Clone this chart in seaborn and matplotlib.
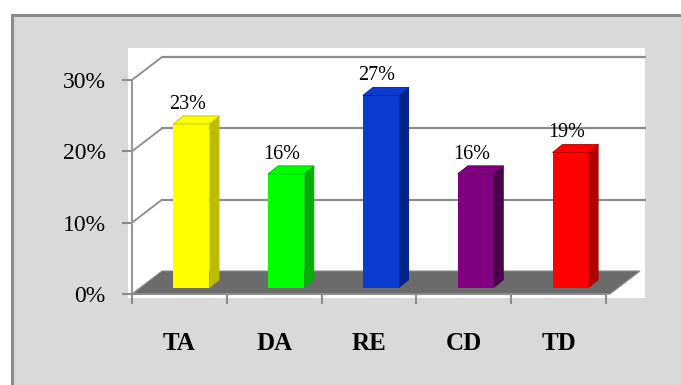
import numpy as np
import matplotlib
matplotlib.use("Agg")
import matplotlib.pyplot as plt
import seaborn as sns
from matplotlib.patches import Polygon, Rectangle
from matplotlib.lines import Line2D
from matplotlib.transforms import offset_copy, IdentityTransform
from matplotlib.ticker import PercentFormatter

# ---- data -------------------------------------------------------------
categories = ["TA", "DA", "RE", "CD", "TD"]
shares = [0.23, 0.16, 0.27, 0.16, 0.19]
front_colors = ["#ffff00", "#00ff00", "#0a3cd2", "#800080", "#ff0000"]
side_colors = ["#bdbd00", "#00b000", "#00238c", "#4a004a", "#b00000"]
y_ticks = [0.0, 0.10, 0.20, 0.30]

# ---- canvas -----------------------------------------------------------
W, H, DPI = 681, 385, 100
sns.set_theme(style="white")
plt.rcParams["font.family"] = ["Liberation Serif", "DejaVu Serif"]

fig = plt.figure(figsize=(W / DPI, H / DPI), dpi=DPI, facecolor="white")


def fx(x):
    return x / W


def fy(y):
    return 1 - y / H


# grey chart panel with its frame, and the white plot area
fig.patches.append(Rectangle((fx(12), fy(420)), fx(740) - fx(12), fy(14.5) - fy(420),
                             transform=fig.transFigure, facecolor="#d9d9d9",
                             edgecolor="#8c8c8c", linewidth=2.2, zorder=-2))
fig.patches.append(Rectangle((fx(128), fy(298)), fx(645) - fx(128), fy(48) - fy(298),
                             transform=fig.transFigure, facecolor="white",
                             edgecolor="none", zorder=-1))

ax = fig.add_axes([fx(132), fy(294), (606 - 132) / W, (294 - 80) / H])
ax.patch.set_visible(False)

sns.barplot(x=categories, y=shares, hue=categories, palette=front_colors,
            width=0.38, saturation=1, legend=False, ax=ax, zorder=5)
ax.set_xlim(-0.5, len(categories) - 0.5)
ax.set_ylim(0, 0.30)
ax.set_xlabel("")
ax.set_ylabel("")

# depth of the 3-D box (pixels) and of each bar
DEPTH_X, DEPTH_Y = 30, 23
BAR_DX, BAR_DY = 10, 8
ident = IdentityTransform()

# back wall gridlines and side-wall diagonals
x_left = ax.get_xlim()[0]
x_right = ax.get_xlim()[1]
for yv in y_ticks[1:]:
    fx0, fy0 = ax.transData.transform((x_left, yv))
    ax.add_line(Line2D([fx0, fx0 + DEPTH_X], [fy0, fy0 + DEPTH_Y], transform=ident,
                       color="#8c8c8c", lw=1.3, clip_on=False, zorder=1))
    ax.add_line(Line2D([fx0 + DEPTH_X, 645], [fy0 + DEPTH_Y, fy0 + DEPTH_Y],
                       transform=ident, color="#8c8c8c", lw=1.6, clip_on=False, zorder=1))

# floor
(l0, b0) = ax.transData.transform((x_left, 0))
(r0, _) = ax.transData.transform((x_right, 0))
r0 += 4
ax.add_patch(Polygon([(l0, b0), (r0, b0), (r0 + DEPTH_X, b0 + DEPTH_Y),
                      (l0 + DEPTH_X, b0 + DEPTH_Y)], closed=True, transform=ident,
                     facecolor="#6b6b6b", edgecolor="#8a8a8a", lw=0.8,
                     clip_on=False, zorder=2))

# bars stand in the middle of the box depth
bar_tr = offset_copy(ax.transData, fig=fig, x=12, y=6, units="dots")
bars = [b for c in ax.containers for b in c]
for bar, side_c, top_c in zip(bars, side_colors, front_colors):
    bar.set_transform(bar_tr)
    bar.set_edgecolor("none")
    x0, w, h = bar.get_x(), bar.get_width(), bar.get_height()
    X0, Y0 = bar_tr.transform((x0, 0))
    X1, Y1 = bar_tr.transform((x0 + w, h))
    ax.add_patch(Polygon([(X1, Y0), (X1 + BAR_DX, Y0 + BAR_DY),
                          (X1 + BAR_DX, Y1 + BAR_DY), (X1, Y1)], closed=True,
                         transform=ident, facecolor=side_c, edgecolor="none",
                         clip_on=False, zorder=5))
    ax.add_patch(Polygon([(X0, Y1), (X1, Y1), (X1 + BAR_DX, Y1 + BAR_DY),
                          (X0 + BAR_DX, Y1 + BAR_DY)], closed=True,
                         transform=ident, facecolor=top_c, edgecolor=side_c,
                         lw=0.6, clip_on=False, zorder=5))

# value labels
for i, v in enumerate(shares):
    ax.annotate(f"{v:.0%}", xy=(i, v), xytext=(8, 21), textcoords="offset pixels",
                ha="center", va="baseline", fontsize=14.5, color="black", zorder=6)

# axes styling
for s in ("top", "right"):
    ax.spines[s].set_visible(False)
ax.spines["left"].set_color("#999999")
ax.spines["left"].set_linewidth(1.5)
ax.spines["bottom"].set_color("#8c8c8c")
ax.spines["bottom"].set_linewidth(1.5)

ax.set_yticks(y_ticks)
ax.yaxis.set_major_formatter(PercentFormatter(1, decimals=0))
ax.tick_params(axis="y", length=7, width=1.5, color="#8c8c8c", pad=12,
               labelsize=17, labelcolor="black", left=True)

ax.set_xticks(np.arange(len(categories) + 1) - 0.5, labels=[""] * (len(categories) + 1))
ax.set_xticks(np.arange(len(categories)), labels=categories, minor=True)
ax.tick_params(axis="x", which="major", length=7.5, width=1.5, color="#8c8c8c",
               bottom=True)
ax.tick_params(axis="x", which="minor", length=0, pad=27, labelsize=18,
               labelcolor="black")
for t in ax.get_xticklabels(minor=True):
    t.set_fontweight("bold")

fig.savefig("out.png", dpi=DPI, facecolor=fig.get_facecolor())
